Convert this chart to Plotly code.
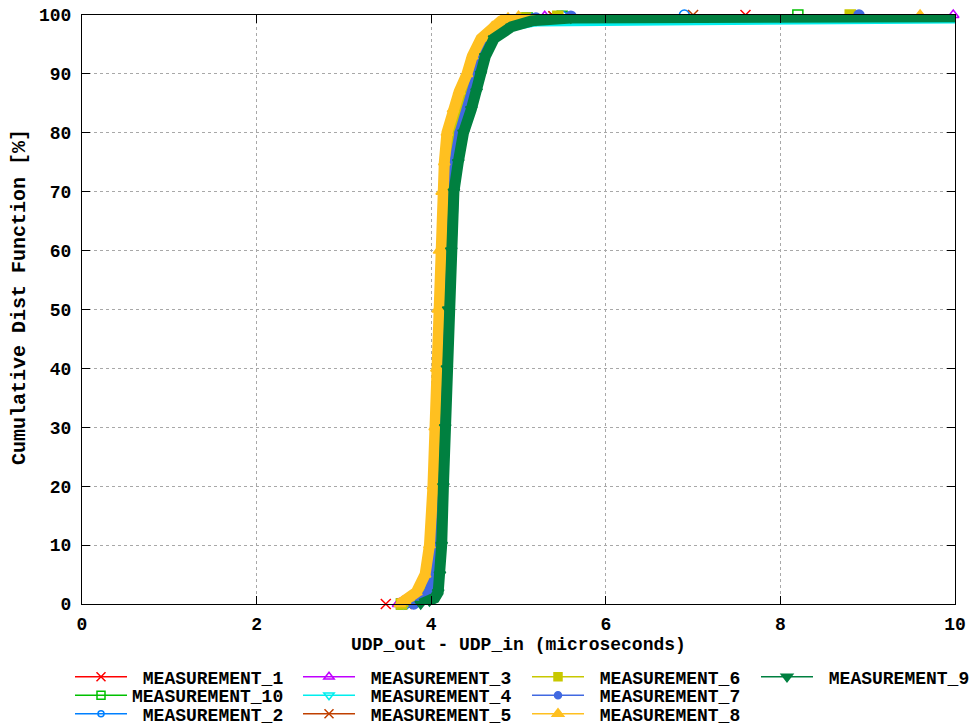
import plotly.graph_objects as go

# cumulative percent levels shared by all series
P = [0, 0.5, 1, 2, 5, 10, 20, 30, 40, 50, 60, 70, 75, 80, 84, 87, 90, 93, 96, 98, 99, 99.5, 99.8, 100]

# UDP_out - UDP_in (microseconds) at each percent level
M_1 = [3.48, 3.72, 3.80, 3.88, 3.98, 4.03, 4.07, 4.09, 4.11, 4.13, 4.15, 4.18, 4.22, 4.27, 4.35, 4.42, 4.48, 4.54, 4.64, 4.78, 4.90, 5.05, 5.40, 7.60]
M_10 = [3.66, 3.76, 3.82, 3.90, 3.99, 4.04, 4.08, 4.10, 4.12, 4.14, 4.16, 4.19, 4.23, 4.28, 4.37, 4.43, 4.49, 4.55, 4.65, 4.80, 4.93, 5.10, 5.50, 8.20]
M_2 = [3.70, 3.78, 3.84, 3.91, 3.99, 4.04, 4.08, 4.11, 4.13, 4.15, 4.17, 4.20, 4.24, 4.30, 4.38, 4.44, 4.50, 4.56, 4.66, 4.81, 4.95, 5.12, 5.50, 6.90]
M_3 = [3.62, 3.74, 3.81, 3.89, 3.97, 4.02, 4.06, 4.09, 4.11, 4.13, 4.15, 4.18, 4.21, 4.26, 4.34, 4.41, 4.47, 4.53, 4.63, 4.77, 4.88, 5.00, 5.30, 9.98]
M_4 = [3.68, 3.77, 3.83, 3.90, 3.99, 4.05, 4.09, 4.11, 4.13, 4.15, 4.18, 4.21, 4.25, 4.31, 4.40, 4.46, 4.51, 4.57, 4.67, 4.84, 5.20, 11.5, 13.0, 15.0]
M_5 = [3.72, 3.79, 3.85, 3.92, 4.00, 4.05, 4.08, 4.10, 4.12, 4.14, 4.16, 4.19, 4.22, 4.28, 4.36, 4.42, 4.48, 4.54, 4.64, 4.79, 4.91, 5.05, 5.40, 7.00]
M_6 = [3.66, 3.75, 3.81, 3.89, 3.98, 4.03, 4.07, 4.10, 4.12, 4.14, 4.16, 4.19, 4.23, 4.29, 4.37, 4.43, 4.49, 4.55, 4.65, 4.80, 4.92, 5.08, 5.45, 8.80]
M_7 = [3.80, 3.88, 3.93, 3.98, 4.04, 4.08, 4.11, 4.13, 4.15, 4.17, 4.20, 4.23, 4.27, 4.33, 4.42, 4.48, 4.53, 4.58, 4.68, 4.85, 5.00, 5.20, 5.60, 8.90]
M_8 = [3.64, 3.70, 3.74, 3.83, 3.93, 3.98, 4.02, 4.04, 4.06, 4.075, 4.09, 4.12, 4.15, 4.18, 4.25, 4.32, 4.41, 4.47, 4.57, 4.70, 4.80, 4.88, 5.00, 9.60]
M_9 = [3.88, 3.98, 4.04, 4.08, 4.10, 4.12, 4.14, 4.16, 4.18, 4.195, 4.23, 4.26, 4.31, 4.37, 4.46, 4.52, 4.57, 4.62, 4.72, 4.92, 5.15, 5.60, 12.0, 20.0]

names = ["MEASUREMENT_1", "MEASUREMENT_10", "MEASUREMENT_2", "MEASUREMENT_3", "MEASUREMENT_4",
         "MEASUREMENT_5", "MEASUREMENT_6", "MEASUREMENT_7", "MEASUREMENT_8", "MEASUREMENT_9"]
series = [M_1, M_10, M_2, M_3, M_4, M_5, M_6, M_7, M_8, M_9]
colors = ["#ff0000", "#00c000", "#0080ff", "#c000ff", "#00eeee",
          "#c04000", "#c8c800", "#4169e1", "#ffc020", "#008040"]
symbols = ["x-thin-open", "square-open", "circle-open", "triangle-up-open", "triangle-down-open",
           "x-thin-open", "square", "circle", "triangle-up", "triangle-down"]
msizes = [9, 8, 6, 9, 9, 9, 8, 7, 10, 10]

FONT = "Liberation Mono"
FW = "bold"
fig = go.Figure()

for xs, c, s, ms in zip(series, colors, symbols, msizes):
    start = 0
    if xs[1] - xs[0] > 0.15:
        # isolated minimum drawn as a lone marker
        fig.add_trace(go.Scatter(x=[xs[0]], y=[P[0]], mode="markers", showlegend=False,
                                 marker=dict(symbol=s, size=ms + 1, color=c, line=dict(color=c, width=1.5)),
                                 cliponaxis=False, hoverinfo="skip"))
        start = 1
    fig.add_trace(go.Scatter(x=xs[start:], y=P[start:], mode="lines+markers", showlegend=False,
                             line=dict(color=c, width=11),
                             marker=dict(symbol=s, size=10, color=c, line=dict(color=c, width=1.5)),
                             cliponaxis=False, hoverinfo="skip"))

# legend (gnuplot style: 3 rows, filled column by column)
W, H = 979, 728
ML, MR, MT, MB = 82, 24, 15, 124
pw, ph = W - ML - MR, H - MT - MB
col_x = [75, 303, 532, 761]
row_y = [677, 695.5, 714]
layout_legends = {}
for i, (n, c, s, ms) in enumerate(zip(names, colors, symbols, msizes)):
    col, row = divmod(i, 3)
    key = "legend" if i == 0 else f"legend{i + 1}"
    label = n if len(n) == 14 else "\u00a0" + n
    fig.add_trace(go.Scatter(x=[None], y=[None], mode="lines+markers", name=label, legend=key,
                             line=dict(color=c, width=1.5),
                             marker=dict(symbol=s, size=ms, color=c, line=dict(color=c, width=1.5))))
    layout_legends[key] = dict(x=(col_x[col] - 5 - ML) / pw, y=(MT + ph - row_y[row]) / ph,
                               xanchor="left", yanchor="middle", bgcolor="rgba(0,0,0,0)",
                               borderwidth=0, itemwidth=52,
                               font=dict(family=FONT, size=18, color="black", weight=FW))

axis_common = dict(showline=True, linecolor="black", linewidth=1, mirror="ticks",
                   ticks="inside", ticklen=8, tickcolor="black", tickwidth=1,
                   showgrid=True, gridcolor="#a8a8a8", griddash="3px,3px", gridwidth=1,
                   zeroline=False, tickfont=dict(family=FONT, size=18, color="black", weight=FW))

fig.update_layout(
    width=W, height=H,
    margin=dict(l=ML, r=MR, t=MT, b=MB, pad=0, autoexpand=False),
    paper_bgcolor="white", plot_bgcolor="white",
    xaxis=dict(range=[0, 10], tick0=0, dtick=2, ticklabelstandoff=3, **axis_common),
    yaxis=dict(range=[0, 100], tick0=0, dtick=10, ticklabelstandoff=6, **axis_common),
    annotations=[
        dict(text="UDP_out - UDP_in (microseconds)", x=0.5, y=(MT + ph - 645) / ph,
             xref="paper", yref="paper", showarrow=False, xanchor="center", yanchor="middle",
             font=dict(family=FONT, size=18, color="black", weight=FW)),
        dict(text="Cumulative Dist Function [%]", x=(19 - ML) / pw, y=(MT + ph - 297) / ph,
             xref="paper", yref="paper", showarrow=False, xanchor="center", yanchor="middle",
             textangle=-90, font=dict(family=FONT, size=20, color="black", weight=FW)),
    ],
    **layout_legends,
)

fig.write_html("out.html", config={"displayModeBar": False},
               post_script="document.body.style.margin='0';")
